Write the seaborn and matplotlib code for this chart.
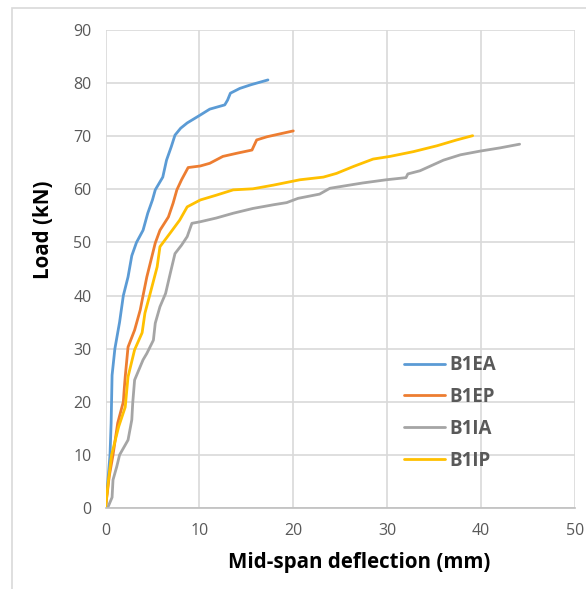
import numpy as np
import pandas as pd
import seaborn as sns
import matplotlib.pyplot as plt
from matplotlib.patches import Rectangle

# Load–deflection records for the four beams
b1ea_defl = [0, 0.2, 0.48, 0.6, 0.7, 1.0, 1.5, 1.9, 2.4, 2.8, 3.3, 4.0, 4.5, 5.0, 5.3, 6.1, 6.5, 7.0, 7.4, 8.0, 8.7, 10.1, 11.1, 12.7, 13.0, 13.3, 14.3, 15.5, 17.3]
b1ea_load = [0, 4.0, 10.0, 16.0, 25.0, 30.0, 35.0, 40.0, 43.5, 47.5, 50.0, 52.3, 55.5, 58.0, 59.9, 62.3, 65.5, 68.0, 70.2, 71.5, 72.5, 74.0, 75.1, 75.9, 76.8, 78.1, 79.0, 79.7, 80.6]

b1ep_defl = [0, 0.4, 0.8, 1.3, 1.9, 2.0, 2.1, 2.4, 3.1, 3.7, 4.0, 4.4, 5.3, 5.8, 6.7, 7.2, 7.6, 8.1, 8.8, 10.1, 11.1, 12.5, 14.0, 15.6, 16.1, 17.2, 20.0]
b1ep_load = [0, 6.0, 10.0, 16.0, 20.0, 22.5, 24.7, 30.3, 33.5, 37.3, 40.0, 43.5, 49.9, 52.3, 54.8, 57.4, 59.9, 61.8, 64.1, 64.4, 64.9, 66.2, 66.8, 67.4, 69.3, 69.9, 71.0]

b1ia_defl = [0, 0.27, 0.7, 0.8, 1.2, 1.5, 2.4, 2.8, 2.9, 3.1, 4.0, 4.4, 5.1, 5.3, 5.8, 6.4, 6.9, 7.4, 8.1, 8.7, 9.2, 10.1, 11.8, 13.6, 15.7, 17.9, 19.3, 20.5, 22.8, 23.9, 27.4, 29.9, 32.0, 32.2, 33.5, 36.0, 37.8, 39.9, 42.0, 44.1]
b1ia_load = [0, 0.2, 2.0, 5.3, 7.8, 10.0, 12.8, 16.6, 19.8, 24.1, 27.9, 29.1, 31.6, 34.8, 37.9, 40.4, 44.2, 47.9, 49.5, 51.1, 53.6, 53.9, 54.6, 55.5, 56.4, 57.1, 57.5, 58.3, 59.1, 60.2, 61.2, 61.8, 62.2, 62.9, 63.5, 65.5, 66.5, 67.2, 67.8, 68.5]

b1ip_defl = [0, 0.3, 0.65, 1.4, 2.1, 2.4, 3.1, 3.9, 4.2, 4.7, 5.5, 5.8, 6.9, 7.9, 8.7, 10.1, 11.8, 13.6, 15.7, 17.9, 20.7, 23.2, 24.6, 26.4, 28.5, 30.3, 32.8, 35.3, 37.4, 39.1]
b1ip_load = [0, 5.0, 10.0, 15.3, 19.0, 24.7, 29.8, 33.0, 36.7, 40.0, 45.4, 49.2, 51.8, 54.2, 56.7, 58.0, 58.9, 59.9, 60.1, 60.8, 61.8, 62.3, 63.0, 64.3, 65.7, 66.2, 67.1, 68.2, 69.3, 70.1]

series_names = ["B1EA", "B1EP", "B1IA", "B1IP"]
series_colors = ["#5B9BD5", "#ED7D31", "#A5A5A5", "#FFC000"]
x_ticks = [0, 10, 20, 30, 40, 50]
y_ticks = [0, 10, 20, 30, 40, 50, 60, 70, 80, 90]

frames = []
for name, xs, ys in zip(series_names,
                        [b1ea_defl, b1ep_defl, b1ia_defl, b1ip_defl],
                        [b1ea_load, b1ep_load, b1ia_load, b1ip_load]):
    frames.append(pd.DataFrame({"defl": xs, "load": ys, "beam": name}))
df = pd.concat(frames, ignore_index=True)

sns.set_style("white")
plt.rcParams["font.family"] = ["Open Sans", "DejaVu Sans"]

fig = plt.figure(figsize=(5.86, 5.89), dpi=100)
ax = fig.add_axes([105.5 / 586, 1 - 508 / 589, (575 - 105.5) / 586, (508 - 30) / 589])

# Chart-area frame (only its left and top edges fall inside the canvas)
fig.patches.append(Rectangle((12 / 586, -0.2), 1.2, 1.2 - 8 / 589,
                             transform=fig.transFigure, fill=False,
                             edgecolor="#d9d9d9", linewidth=1.2, zorder=0))

# one line per beam, keeping the recorded point order
for name, col in zip(series_names, series_colors):
    sub = df[df["beam"] == name]
    sns.lineplot(data=sub, x="defl", y="load", sort=False, estimator=None,
                 color=col, linewidth=2.0, ax=ax, label=name)

ax.set_xlim(0, 50)
ax.set_ylim(0, 90)
ax.set_xticks(x_ticks)
ax.set_yticks(y_ticks)
ax.grid(True, color="#d9d9d9", linewidth=1.2)
ax.set_axisbelow(True)
for side in ["top", "right", "left"]:
    ax.spines[side].set_visible(False)
ax.spines["bottom"].set_color("#bfbfbf")
ax.spines["bottom"].set_linewidth(1.2)
ax.tick_params(axis="x", length=0, labelsize=11.5, labelcolor="#595959", pad=11)
ax.tick_params(axis="y", length=0, labelsize=11.5, labelcolor="#595959", pad=10)

ax.set_xlabel("Mid-span deflection (mm)", fontsize=14.8, fontweight="bold",
              color="black")
ax.set_ylabel("Load (kN)", fontsize=14.8, fontweight="bold", color="black")
ax.xaxis.set_label_coords(0.54, -0.092)
ax.yaxis.set_label_coords(-0.11, 0.583)

leg = ax.legend(loc="upper left", bbox_to_anchor=(0.60, 0.355), frameon=False,
                handlelength=2.2, handletextpad=0.2, labelspacing=0.63,
                prop={"size": 13.5, "weight": "bold"})
for t in leg.get_texts():
    t.set_color("#595959")

fig.savefig("out.png", dpi=100)
